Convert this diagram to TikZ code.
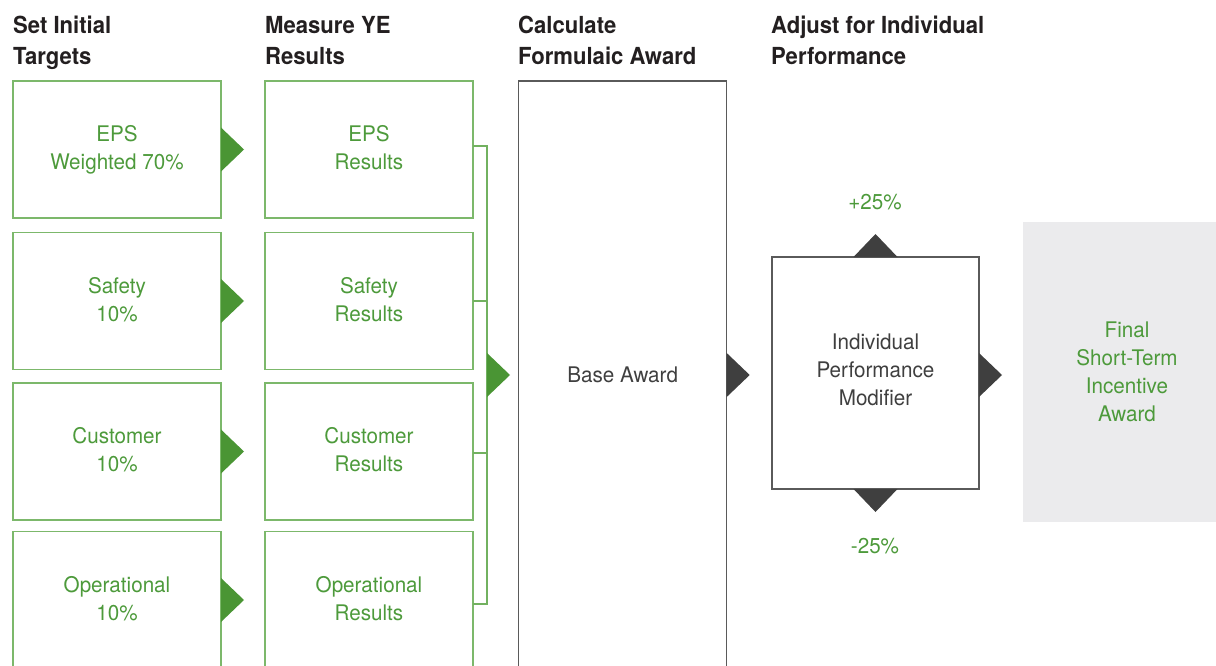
\documentclass[tikz,border=0pt]{standalone}
\usepackage{fontspec}
\setmainfont{TeX Gyre Heros}[FakeStretch=0.96]
\newfontfamily\headfam{TeX Gyre Heros}[FakeStretch=0.94]
\definecolor{headcol}{HTML}{231F20}
\definecolor{gtext}{HTML}{4D9A3B}
\definecolor{gborder}{HTML}{7CB86B}
\definecolor{garrow}{HTML}{4A9534}
\definecolor{dgray}{HTML}{3F3F3F}
\definecolor{bline}{HTML}{5A5A5A}
\definecolor{finfill}{HTML}{EBEBED}
\newcommand\bodyfnt{\fontsize{21.5}{28}\selectfont}
\newcommand\headfnt{\headfam\fontsize{23.5}{31}\selectfont\bfseries}
\tikzset{
  gbox/.style={draw=gborder, line width=1.5pt, minimum width=208pt, minimum height=137pt,
    inner sep=0pt, outer sep=0pt, align=center, text=gtext, font=\bodyfnt, text depth=4pt},
  dbox/.style={draw=bline, line width=1.3pt, inner sep=0pt, outer sep=0pt, align=center,
    text=dgray, font=\bodyfnt},
  head/.style={anchor=north west, inner sep=0pt, align=left, text=headcol, font=\headfnt},
  gline/.style={draw=gborder!80!garrow, line width=1.3pt},
  lbl/.style={inner sep=0pt, text=gtext, font=\bodyfnt}
}
\newcommand\rtri[2]{\fill[#2] (#1) ++(0,-22) -- ++(23,22) -- ++(-23,22) -- cycle;}
\begin{document}
\begin{tikzpicture}[x=1pt,y=-1pt]
\useasboundingbox (0,0) rectangle (1216,666);
\clip (0,0) rectangle (1216,666);
% headers
\node[head] (h1) at (13,16) {Set Initial\\Targets};
\node[head] (h2) at (265,16) {Measure YE\\Results};
\node[head] (h3) at (518,16) {Calculate\\Formulaic Award};
\node[head] (h4) at (771,16) {Adjust for Individual\\Performance};
% left column
\node[gbox] (l1) at (117,149.5) {EPS\\Weighted 70\%};
\node[gbox] (l2) at (117,301) {Safety\\10\%};
\node[gbox] (l3) at (117,451.5) {Customer\\10\%};
\node[gbox] (l4) at (117,600) {Operational\\10\%};
% middle column
\node[gbox] (m1) at (369,149.5) {EPS\\Results};
\node[gbox] (m2) at (369,301) {Safety\\Results};
\node[gbox] (m3) at (369,451.5) {Customer\\Results};
\node[gbox] (m4) at (369,600) {Operational\\Results};
% arrows left -> middle
\rtri{l1.east}{garrow}
\rtri{l2.east}{garrow}
\rtri{l3.east}{garrow}
\rtri{l4.east}{garrow}
% bracket
\coordinate (bx) at (487,375);
\draw[gline] ([yshift=3.5pt]m1.east) -- ([yshift=3.5pt]m1.east -| bx)
   -- ([yshift=-4pt]m4.east -| bx) -- ([yshift=-4pt]m4.east);
\draw[gline] (m2.east) -- (m2.east -| bx);
\draw[gline] ([yshift=-1.5pt]m3.east) -- ([yshift=-1.5pt]m3.east -| bx);
\rtri{bx}{garrow}
% base award
\node[dbox, minimum width=208pt, minimum height=588pt] (tb) at (622.7,375) {Base Award};
\rtri{tb.east}{dgray}
% modifier
\node[dbox, minimum width=207pt, minimum height=232pt, text depth=6pt] (mod) at (875.5,373)
  {Individual\\Performance\\Modifier};
\fill[dgray] (mod.north) ++(-22,0) -- ++(22,-23) -- ++(22,23) -- cycle;
\fill[dgray] (mod.south) ++(-22,0) -- ++(22,23) -- ++(22,-23) -- cycle;
\node[lbl] (up) at (875,202) {+25\%};
\node[lbl] (dn) at (875,546) {-25\%};
\rtri{[yshift=-2pt]mod.east}{dgray}
% final
\node[fill=finfill, minimum width=208pt, minimum height=300pt, inner sep=0pt, align=center,
  text=gtext, font=\bodyfnt] (fin) at (1127,372) {Final\\Short-Term\\Incentive\\Award};
\end{tikzpicture}
\end{document}
